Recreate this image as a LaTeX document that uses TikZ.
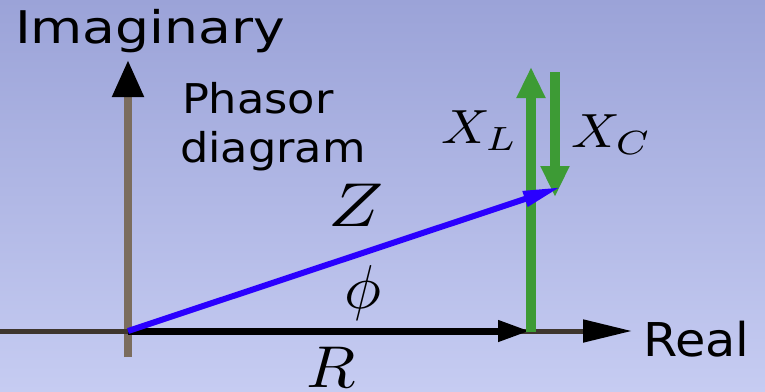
\documentclass[tikz,border=0pt]{standalone}
\usepackage{fontspec}
\usepackage{graphicx}
\newfontfamily\dv{DejaVu Sans}
\usetikzlibrary{arrows.meta}
\definecolor{bgtop}{HTML}{9BA3D8}
\definecolor{bgbot}{HTML}{C6CCF2}
\definecolor{vaxis}{HTML}{7B6D5E}
\definecolor{haxis}{HTML}{3E362E}
\definecolor{phgreen}{HTML}{3D9B35}
\definecolor{zblue}{HTML}{2A00FF}
\tikzset{
  lbl/.style={inner sep=0pt, outer sep=0pt, text=black},
  vaxisline/.style={draw=vaxis, line width=8pt, -{Triangle[black,length=37pt,width=30pt]}},
  haxisline/.style={draw=haxis, line width=5pt, -{Triangle[black,length=49pt,width=22pt]}},
  rline/.style={draw=black, line width=7pt, -{Triangle[black,length=32pt,width=20pt]}},
  gline/.style={draw=phgreen, line width=10pt, -{Triangle[phgreen,length=31pt,width=27pt]}},
  zline/.style={draw=zblue, line width=6pt, -{Triangle[zblue,length=38pt,width=15pt]}},
}
\begin{document}
\begin{tikzpicture}[x=1pt,y=-1pt]
\useasboundingbox (0,0) rectangle (765,391);
\shade[top color=bgtop,bottom color=bgbot] (0,0) rectangle (765,391);
\coordinate (O) at (128,331);
\coordinate (vtop) at (128,60);
\coordinate (vbot) at (128,357);
\coordinate (hleft) at (0,331);
\coordinate (hright) at (632,331);
\coordinate (Rend) at (530,331);
\coordinate (XLbot) at (531,332);
\coordinate (XLtop) at (531,67);
\coordinate (XCtop) at (555,72);
\coordinate (XCbot) at (555,197);
\coordinate (Zend) at (561,187);
% axes
\draw[vaxisline] (vbot) -- (vtop);
\draw[haxisline] (hleft) -- (hright);
% R
\draw[rline] (O) -- (Rend);
% X_L and X_C
\draw[gline] (XLbot) -- (XLtop);
\draw[gline] (XCtop) -- (XCbot);
% Z
\draw[zline] (O) -- (Zend);
% labels
\node[lbl, anchor=base west] (imag) at (15,43) {\scalebox{1.19}[1]{\fontsize{45}{54}\selectfont\dv Imaginary}};
\node[lbl, anchor=base west] (ph1) at (182,113) {\scalebox{1.09}[1]{\fontsize{41}{49}\selectfont\dv Phasor}};
\node[lbl, anchor=base west] (ph2) at (180,162) {\scalebox{1.09}[1]{\fontsize{41}{49}\selectfont\dv diagram}};
\node[lbl, anchor=base west] (real) at (643,356) {\scalebox{1.06}[1]{\fontsize{46.6}{56}\selectfont\dv Real}};
\node[lbl, anchor=base west] (xl) at (441,143) {\scalebox{5.38}[4.8]{$X_L$}};
\node[lbl, anchor=base west] (xc) at (571,147) {\scalebox{5.38}[4.8]{$X_C$}};
\node[lbl, anchor=base west] (zl) at (328,226) {\scalebox{7.3}[6.2]{$Z$}};
\node[lbl, anchor=base west] (phi) at (344,308) {\scalebox{6.2}{$\phi$}};
\node[lbl, anchor=base west] (rl) at (306,387) {\scalebox{6.42}[5.9]{$R$}};
\end{tikzpicture}
\end{document}
